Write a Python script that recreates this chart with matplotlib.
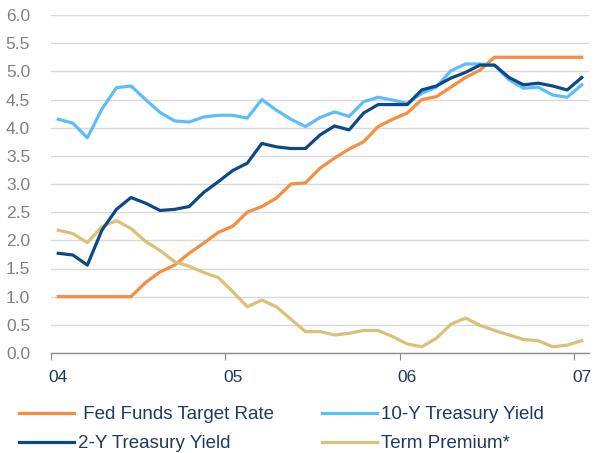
import matplotlib
matplotlib.use('Agg')
import matplotlib.pyplot as plt
import numpy as np

plt.rcParams['font.family'] = ['Liberation Sans', 'DejaVu Sans']

# monthly data, Jan 2004 .. Jan 2007
months = np.arange(37) + 0.5   # month centres, 0 = start of 2004

fed_funds = [1.00, 1.00, 1.00, 1.00, 1.00, 1.00, 1.25, 1.44, 1.56, 1.77,
             1.95, 2.14, 2.25, 2.50, 2.60, 2.75, 3.00, 3.02, 3.28, 3.46,
             3.62, 3.75, 4.02, 4.15, 4.26, 4.50, 4.55, 4.72, 4.89, 5.02,
             5.25, 5.25, 5.25, 5.25, 5.25, 5.25, 5.25]
ten_year = [4.15, 4.08, 3.82, 4.33, 4.71, 4.74, 4.50, 4.27, 4.12, 4.10,
            4.19, 4.22, 4.22, 4.17, 4.50, 4.31, 4.15, 4.02, 4.18, 4.28,
            4.20, 4.46, 4.54, 4.49, 4.43, 4.61, 4.72, 5.01, 5.13, 5.13,
            5.11, 4.85, 4.70, 4.72, 4.58, 4.54, 4.76]
two_year = [1.77, 1.74, 1.56, 2.18, 2.55, 2.76, 2.66, 2.53, 2.55, 2.60,
            2.85, 3.04, 3.24, 3.37, 3.72, 3.66, 3.63, 3.63, 3.87, 4.03,
            3.96, 4.26, 4.41, 4.41, 4.41, 4.67, 4.74, 4.88, 4.98, 5.11,
            5.11, 4.89, 4.76, 4.79, 4.74, 4.67, 4.89]
term_premium = [2.18, 2.12, 1.96, 2.24, 2.35, 2.21, 1.98, 1.82, 1.62, 1.54,
                1.43, 1.34, 1.09, 0.82, 0.94, 0.82, 0.60, 0.38, 0.38, 0.32,
                0.35, 0.40, 0.40, 0.29, 0.16, 0.11, 0.26, 0.51, 0.62, 0.49,
                0.40, 0.32, 0.24, 0.22, 0.11, 0.14, 0.22]

year_ticks = [0, 12, 24, 36]
year_labels = ['04', '05', '06', '07']

fig = plt.figure(figsize=(5.95, 4.53), dpi=100)
ax = fig.add_axes([51 / 595, 1 - 353 / 453, (589 - 51) / 595, (353 - 15) / 453])

lw = 2.3
ax.plot(months, fed_funds, color='#F68D3F', lw=lw, label=' Fed Funds Target Rate', zorder=3)
ax.plot(months, two_year, color='#0B4A86', lw=lw, label='2-Y Treasury Yield', zorder=4)
ax.plot(months, ten_year, color='#5BBEFA', lw=lw, label='10-Y Treasury Yield', zorder=3)
ax.plot(months, term_premium, color='#DBC176', lw=lw, label='Term Premium*', zorder=3)

ax.set_xlim(0, 37)
ax.set_ylim(0, 6)
ax.set_yticks(np.arange(0, 6.01, 0.5))
ax.set_yticklabels([f'{v:.1f}' for v in np.arange(0, 6.01, 0.5)])

# tick marks at year boundaries, labels under the January point
ax.set_xticks(year_ticks)
ax.set_xticklabels([])
ax.set_xticks([t + 0.5 for t in year_ticks], minor=True)
ax.set_xticklabels(year_labels, minor=True)

ax.grid(axis='y', color='#D9D9D9', lw=1)
ax.set_axisbelow(True)
for s in ['top', 'right', 'left']:
    ax.spines[s].set_visible(False)
ax.spines['bottom'].set_color('#8C8C8C')
ax.spines['bottom'].set_linewidth(1)

ax.tick_params(axis='y', length=0, labelsize=12.5, labelcolor='#808080', pad=15)
ax.tick_params(axis='x', which='major', length=5, color='#8C8C8C')
ax.tick_params(axis='x', which='minor', length=0, labelsize=12.5,
               labelcolor='#1F3A60', pad=12)

fig.legend(loc='upper left', bbox_to_anchor=(0.032, 0.103), ncol=2, frameon=False,
           fontsize=13.5, handlelength=2.95, handletextpad=0.2, labelspacing=0.62,
           columnspacing=2.55, labelcolor='#1F3A60', borderaxespad=0, borderpad=0)

fig.savefig('out.png', dpi=100)
